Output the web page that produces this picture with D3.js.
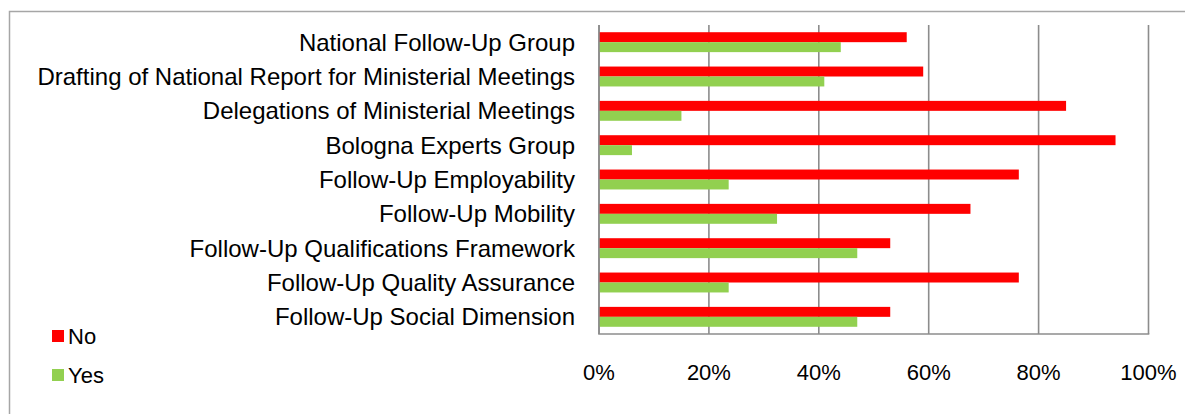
<!DOCTYPE html>
<html>
<head>
<meta charset="utf-8">
<script src="https://cdn.jsdelivr.net/npm/d3@7"></script>
<style>
  body { margin: 0; background: #fff; }
  svg { display: block; font-family: "Liberation Sans", Arial, sans-serif; }
</style>
</head>
<body>
<div id="chart"></div>
<script>
// data (share of answers)
var categories = [
  "National Follow-Up Group",
  "Drafting of National Report for Ministerial Meetings",
  "Delegations of Ministerial Meetings",
  "Bologna Experts Group",
  "Follow-Up Employability",
  "Follow-Up Mobility",
  "Follow-Up Qualifications Framework",
  "Follow-Up Quality Assurance",
  "Follow-Up Social Dimension"
];
var noValues  = [0.56, 0.59, 0.85, 0.94, 0.764, 0.676, 0.53, 0.764, 0.53];
var yesValues = [0.44, 0.41, 0.15, 0.06, 0.236, 0.324, 0.47, 0.236, 0.47];
var seriesNames = ["No", "Yes"];
var colors = {No: "#ff0000", Yes: "#92d050"};
var xTicks = [0, 0.2, 0.4, 0.6, 0.8, 1];

var width = 1185, height = 414;

var svg = d3.select("#chart").append("svg")
  .attr("width", width)
  .attr("height", height);

// outer frame (right/bottom edges fall outside the picture)
svg.append("rect")
  .attr("x", 9.5).attr("y", 11.5)
  .attr("width", 1200).attr("height", 420)
  .attr("fill", "none")
  .attr("stroke", "#a6a6a6")
  .attr("stroke-width", 1.5);

var x = d3.scaleLinear().domain([0, 1]).range([599, 1148.5]);
var y = d3.scaleBand().domain(categories).range([25, 334])
  .paddingInner(0.42).paddingOuter(0.21);
var ySub = d3.scaleBand().domain(seriesNames).range([0, y.bandwidth()]);

// vertical gridlines
svg.append("g").selectAll("line")
  .data(xTicks)
  .enter().append("line")
  .attr("x1", function(d) { return x(d); })
  .attr("x2", function(d) { return x(d); })
  .attr("y1", 25).attr("y2", 334)
  .attr("stroke", "#8c8c8c")
  .attr("stroke-width", 1.6);

var rows = categories.map(function(c, i) {
  return {cat: c, No: noValues[i], Yes: yesValues[i]};
});

var groups = svg.append("g").selectAll("g")
  .data(rows)
  .enter().append("g")
  .attr("transform", function(d) { return "translate(0," + y(d.cat) + ")"; });

groups.selectAll("rect")
  .data(function(d) { return seriesNames.map(function(s) { return {s: s, v: d[s]}; }); })
  .enter().append("rect")
  .attr("x", x(0))
  .attr("y", function(d) { return ySub(d.s); })
  .attr("width", function(d) { return x(d.v) - x(0); })
  .attr("height", ySub.bandwidth())
  .attr("fill", function(d) { return colors[d.s]; });

// axis lines
svg.append("line")
  .attr("x1", x(0)).attr("x2", x(0)).attr("y1", 25).attr("y2", 334)
  .attr("stroke", "#8c8c8c").attr("stroke-width", 1.6);
svg.append("line")
  .attr("x1", x(0) - 0.8).attr("x2", x(1) + 0.8).attr("y1", 334).attr("y2", 334)
  .attr("stroke", "#8c8c8c").attr("stroke-width", 1.6);

// category labels
svg.append("g").selectAll("text")
  .data(categories)
  .enter().append("text")
  .attr("x", 575)
  .attr("y", function(d) { return y(d) + y.bandwidth() / 2; })
  .attr("dy", "0.35em")
  .attr("text-anchor", "end")
  .attr("font-size", 24)
  .attr("fill", "#000")
  .text(function(d) { return d; });

// tick labels
svg.append("g").selectAll("text")
  .data(xTicks)
  .enter().append("text")
  .attr("x", function(d) { return x(d); })
  .attr("y", 372)
  .attr("dy", "0.35em")
  .attr("text-anchor", "middle")
  .attr("font-size", 22)
  .attr("fill", "#000")
  .text(d3.format(".0%"));

// legend
var legend = svg.append("g").selectAll("g")
  .data(seriesNames)
  .enter().append("g")
  .attr("transform", function(d, i) { return "translate(52," + (336 + i * 39) + ")"; });

legend.append("rect")
  .attr("x", 0).attr("y", -6)
  .attr("width", 12).attr("height", 12)
  .attr("fill", function(d) { return colors[d]; });

legend.append("text")
  .attr("x", 16)
  .attr("y", 0)
  .attr("dy", "0.35em")
  .attr("font-size", 22)
  .attr("fill", "#000")
  .text(function(d) { return d; });
</script>
</body>
</html>
